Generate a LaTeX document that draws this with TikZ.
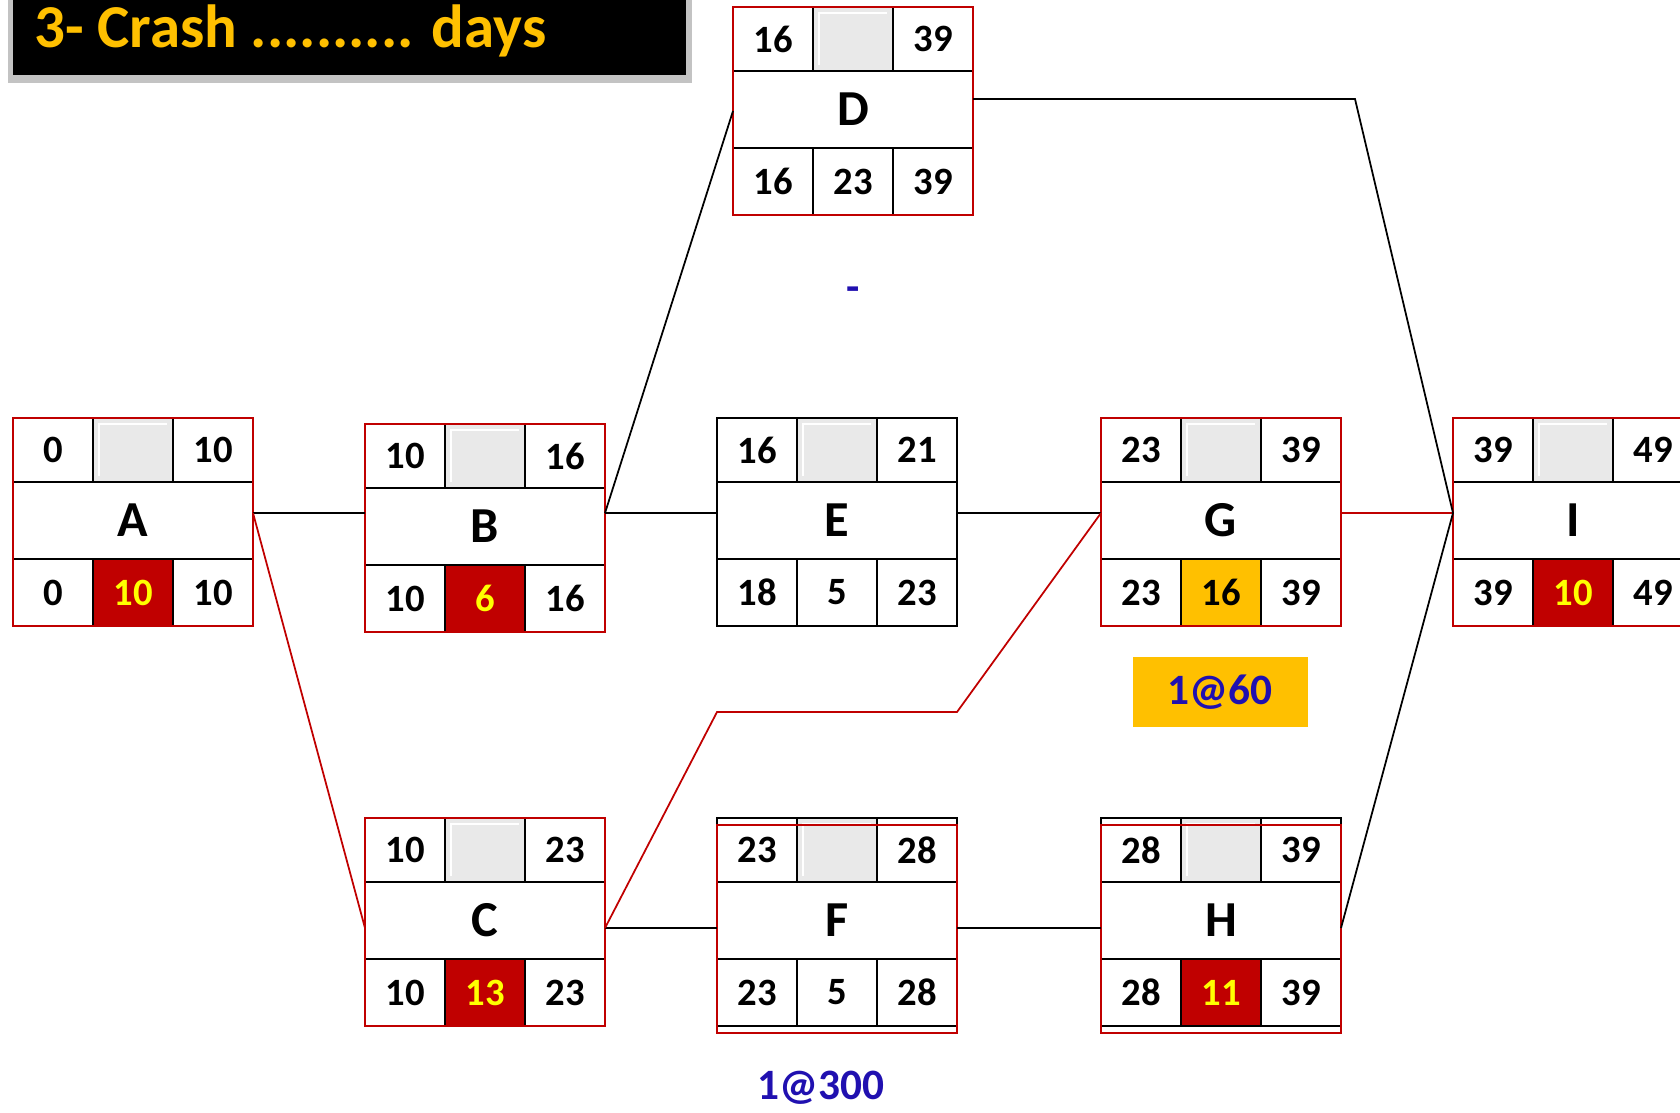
\documentclass[tikz,border=0pt]{standalone}
\usepackage{fontspec}
\setmainfont{Carlito}
\usepackage{tikz}
\usetikzlibrary{positioning, calc}
\definecolor{nwred}{RGB}{192, 0, 0}
\definecolor{nwgold}{RGB}{255, 192, 0}
\definecolor{nwyellow}{RGB}{255, 255, 0}
\definecolor{nwgray}{RGB}{233, 233, 233}
\definecolor{nwblue}{RGB}{32, 16, 176}
\definecolor{nwshade}{RGB}{195, 195, 195}

\tikzset{
  num/.style={font=\bfseries\fontsize{33}{35}\selectfont, inner sep=0pt},
  actname/.style={font=\bfseries\fontsize{43}{45}\selectfont, inner sep=0pt},
  cost/.style={font=\bfseries\fontsize{37}{39}\selectfont, text=nwblue, inner sep=0pt},
  boxarea/.style={minimum width=7.2cm, minimum height=6.24cm, inner sep=0pt, outer sep=0pt},
  cellfill/.style={minimum width=2.4cm, minimum height=2.01cm},
  dred/.style={fill=nwred, text=nwyellow},
  dgold/.style={fill=nwgold, text=black},
  dwhite/.style={},
  grid/.style={black, line width=1.8pt},
  redframe/.style={draw=nwred, line width=2.3pt},
  noframe/.style={draw=none},
  shiftframe/.style={draw=nwred, line width=2.3pt, yshift=-6pt},
  link/.style={black, line width=1.5pt},
  critlink/.style={nwred, line width=1.5pt},
  bevel/.style={white, line width=2pt}
}

\begin{document}
\begin{tikzpicture}[x=0.03cm, y=-0.03cm]
  \useasboundingbox (0,0) rectangle (1680,1112);
  \clip (0,0) rectangle (1680,1112);

  % --- title bar ---
  \fill[nwshade] (8,-10) rectangle (692,83);
  \fill[black] (13,-10) rectangle (686,75);
  \node[font=\bfseries\fontsize{52}{54}\selectfont, text=nwgold, anchor=base west, inner sep=0pt]
    (title) at (34,47) {3- Crash .......... days};

  % --- activity boxes: name/x/y/ES/EF/LS/dur/LF/dur style/frame ---
  \foreach \n/\x/\y/\es/\ef/\ls/\d/\lf/\ds/\fr in {
      A/13/418/0/10/0/10/10/dred/redframe,
      B/365/424/10/16/10/6/16/dred/redframe,
      D/733/7/16/39/16/23/39/dwhite/redframe,
      E/717/418/16/21/18/5/23/dwhite/noframe,
      G/1101/418/23/39/23/16/39/dgold/redframe,
      I/1453/418/39/49/39/10/49/dred/redframe,
      C/365/818/10/23/10/13/23/dred/redframe,
      F/717/818/23/28/23/5/28/dwhite/shiftframe,
      H/1101/818/28/39/28/11/39/dred/shiftframe}{
    \node[boxarea, fill=white] (\n) at (\x+120,\y+104) {};
    \node[cellfill, minimum height=1.92cm, fill=nwgray] (\n-tf) at (\x+120,\y+32) {};
    \draw[bevel] (\x+86,\y+58) -- (\x+86,\y+6) -- (\x+154,\y+6);
    \node[num] (\n-es) at (\x+40,\y+32) {\es};
    \node[num] (\n-ef) at (\x+200,\y+32) {\ef};
    \node[actname] (\n-name) at (\x+120,\y+102.5) {\n};
    \node[num] (\n-ls) at (\x+40,\y+174.5) {\ls};
    \node[num, cellfill, \ds] (\n-dur) at (\x+120,\y+174.5) {\d};
    \node[num] (\n-lf) at (\x+200,\y+174.5) {\lf};
    \draw[grid] (\x,\y) rectangle ++(240,208)
      (\x,\y+64) -- ++(240,0) (\x,\y+141) -- ++(240,0)
      (\x+80,\y) -- ++(0,64) (\x+160,\y) -- ++(0,64)
      (\x+80,\y+141) -- ++(0,67) (\x+160,\y+141) -- ++(0,67);
    \draw[\fr] (\x,\y) rectangle ++(240,208);
  }

  % --- rows the links run on ---
  \coordinate (row1) at (0,513);
  \coordinate (row2) at (0,928);
  \coordinate (drow) at (0,99);
  \coordinate (crow) at (0,712);
  \coordinate (dk) at (1355,99);

  % --- links ---
  \draw[link] (A.east |- row1) -- (B.west |- row1);
  \draw[link] (B.east |- row1) -- (E.west |- row1);
  \draw[link] (E.east |- row1) -- (G.west |- row1);
  \draw[critlink] (G.east |- row1) -- (I.west |- row1);
  \draw[critlink] (A.east |- row1) -- (C.west |- row2);
  \draw[link] (B.east |- row1) -- (D.west);
  \draw[link] (D.east |- drow) -- (dk) -- (I.west |- row1);
  \draw[link] (C.east |- row2) -- (F.west |- row2);
  \draw[link] (F.east |- row2) -- (H.west |- row2);
  \draw[link] (H.east |- row2) -- (I.west |- row1);
  \draw[critlink] (C.east |- row2) -- (F.west |- crow) -- (F.east |- crow)
    -- (G.west |- row1);

  % --- crash costs ---
  \node[cost] (dcost) at (853,294) {-};
  \node[cost, fill=nwgold, minimum width=5.25cm, minimum height=2.1cm]
    (gcost) at (1220,692) {1@60};
  \node[cost] (fcost) at (821,1088) {1@300};

\end{tikzpicture}
\end{document}
